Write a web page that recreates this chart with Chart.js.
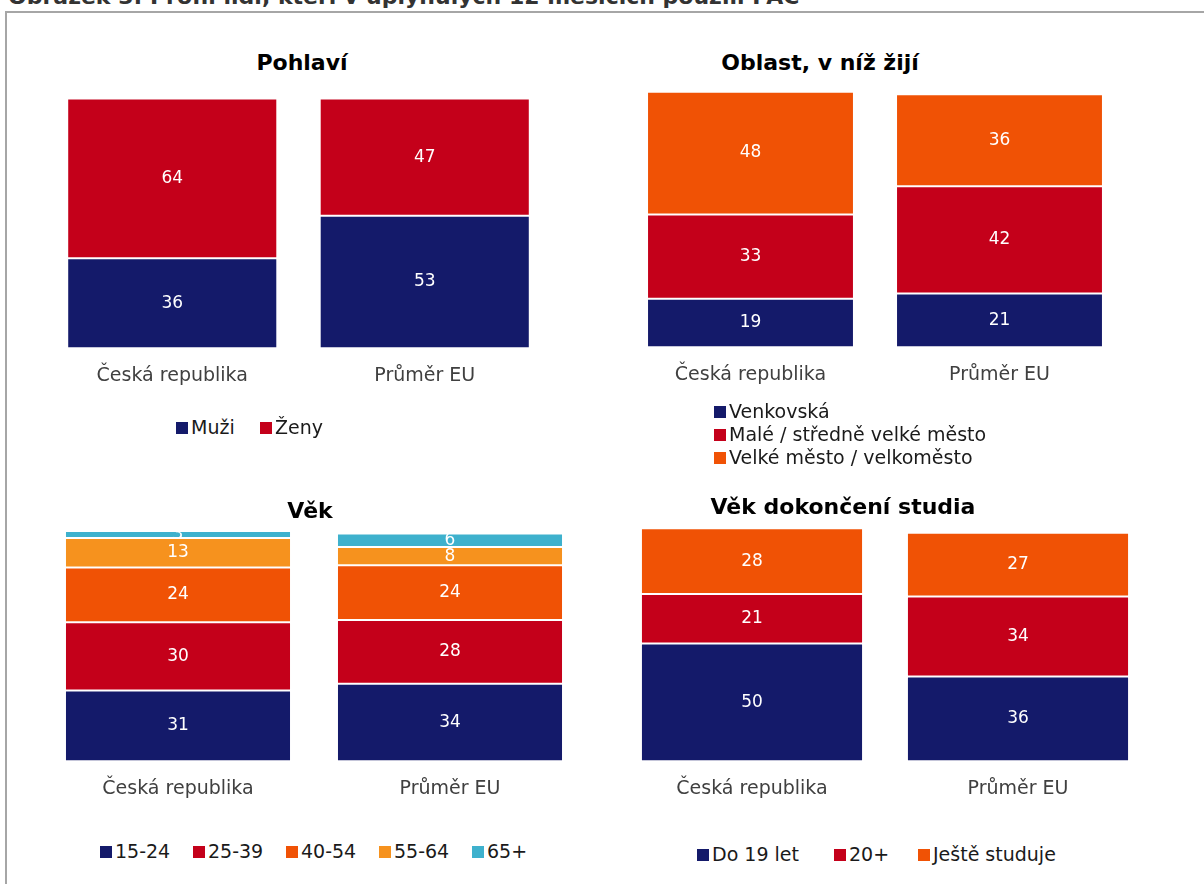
<!DOCTYPE html>
<html>
<head>
<meta charset="utf-8">
<script src="https://cdn.jsdelivr.net/npm/chart.js@4.4.0/dist/chart.umd.min.js"></script>
<style>
  body { margin: 0; background: #fff; width: 1204px; height: 884px; overflow: hidden; position: relative; font-family: "DejaVu Sans", Verdana, sans-serif; }
  #figTitle { position: absolute; left: 8px; top: -16px; font-size: 22px; line-height: 26px; font-weight: bold; color: #333; white-space: nowrap; }
  #frame { position: absolute; left: 5px; top: 11px; width: 1300px; height: 1000px; border-left: 2px solid #a6a6a6; border-top: 2px solid #a6a6a6; }
  canvas { position: absolute; }
  .title { position: absolute; font-size: 22px; font-weight: bold; color: #000; white-space: nowrap; transform: translate(-50%, -50%); }
  .leg { position: absolute; font-size: 19px; line-height: 22px; color: #1a1a1a; white-space: nowrap; }
  .leg span { display: inline-block; width: 12px; height: 12px; margin-right: 3px; vertical-align: 0px; }
</style>
</head>
<body>
<div id="figTitle">Obrázek 3: Profil lidí, kteří v uplynulých 12 měsících použili PAC</div>
<div id="frame"></div>

<canvas id="c1"></canvas>
<canvas id="c2"></canvas>
<canvas id="c3"></canvas>
<canvas id="c4"></canvas>
<div id="titles"></div>
<div id="legends"></div>

<script>
// data
const countries = ['Česká republika', 'Průměr EU'];

const genderLabels = ['Muži', 'Ženy'];
const genderMen = [36, 53];
const genderWomen = [64, 47];

const areaLabels = ['Venkovská', 'Malé / středně velké město', 'Velké město / velkoměsto'];
const areaRural = [19, 21];
const areaSmallTown = [33, 42];
const areaCity = [48, 36];

const ageLabels = ['15-24', '25-39', '40-54', '55-64', '65+'];
const age15to24 = [31, 34];
const age25to39 = [30, 28];
const age40to54 = [24, 24];
const age55to64 = [13, 8];
const age65plus = [3, 6];

const eduLabels = ['Do 19 let', '20+', 'Ještě studuje'];
const eduTo19 = [50, 36];
const edu20plus = [21, 34];
const eduStill = [28, 27];

// colours
const NAVY = '#141a6a', RED = '#c4001a', ORANGE = '#f05205', LIGHT = '#f6921e', CYAN = '#3eb1cd';

// layout of each panel (plot area in page pixels)
const Y_MAX = 105;
const TICK_FONT = 19, TICK_PAD = 16;
const panels = [
  { id: 'c1', title: 'Pohlaví', tx: 302, ty: 62, left: 46, right: 551, bottom: 348, ppu: 2.5, bar: 0.832,
    labels: genderLabels, series: [genderMen, genderWomen], colors: [NAVY, RED],
    legend: [[176, 427], [260, 427]] },
  { id: 'c2', title: 'Oblast, v níž žijí', tx: 820, ty: 62, left: 625.5, right: 1123.5, bottom: 347, ppu: 2.55, bar: 0.831,
    labels: areaLabels, series: [areaRural, areaSmallTown, areaCity], colors: [NAVY, RED, ORANGE],
    legend: [[714, 411], [714, 434], [714, 457]] },
  { id: 'c3', title: 'Věk', tx: 310, ty: 510, left: 42, right: 586, bottom: 761, ppu: 2.275, bar: 0.831,
    labels: ageLabels, series: [age15to24, age25to39, age40to54, age55to64, age65plus], colors: [NAVY, RED, ORANGE, LIGHT, CYAN],
    legend: [[100, 851], [193, 851], [286, 851], [379, 851], [472, 851]] },
  { id: 'c4', title: 'Věk dokončení studia', tx: 843, ty: 506, left: 619, right: 1151, bottom: 761, ppu: 2.35, bar: 0.835,
    labels: eduLabels, series: [eduTo19, edu20plus, eduStill], colors: [NAVY, RED, ORANGE],
    legend: [[697, 854], [834, 854], [918, 854]] }
];

// white value labels in the middle of each segment
const valueLabels = {
  id: 'valueLabels',
  afterDatasetsDraw(chart) {
    const ctx = chart.ctx;
    ctx.save();
    ctx.font = '17px "DejaVu Sans"';
    ctx.fillStyle = '#fff';
    ctx.textAlign = 'center';
    ctx.textBaseline = 'middle';
    chart.data.datasets.forEach((ds, i) => {
      chart.getDatasetMeta(i).data.forEach((bar, j) => {
        const p = bar.getProps(['x', 'y', 'base'], true);
        ctx.fillText(ds.data[j], p.x, (p.y + p.base) / 2);
      });
    });
    ctx.restore();
  }
};

const titles = document.getElementById('titles');
const legends = document.getElementById('legends');

panels.forEach(p => {
  const canvas = document.getElementById(p.id);
  const top = p.bottom - p.ppu * Y_MAX;
  const axisH = TICK_FONT * 1.2 + TICK_PAD * 2;
  const w = Math.round(p.right - p.left);
  const h = Math.round(p.bottom - top + axisH);
  canvas.width = w;
  canvas.height = h;
  canvas.style.left = p.left + 'px';
  canvas.style.top = (p.bottom + axisH - h) + 'px';

  const chart = new Chart(canvas.getContext('2d'), {
    type: 'bar',
    data: {
      labels: countries,
      datasets: p.series.map((s, i) => ({
        label: p.labels[i],
        data: s,
        backgroundColor: p.colors[i],
        borderColor: 'rgba(255,255,255,0.25)',
        borderWidth: 1,
        borderSkipped: false,
        categoryPercentage: 1,
        barPercentage: p.bar
      }))
    },
    options: {
      responsive: false,
      animation: false,
      layout: { padding: 0 },
      plugins: { legend: { display: false }, tooltip: { enabled: false } },
      scales: {
        x: {
          stacked: true,
          grid: { display: false, drawTicks: false },
          border: { display: false },
          ticks: { color: '#404040', padding: TICK_PAD, font: { family: 'DejaVu Sans', size: TICK_FONT } }
        },
        y: { stacked: true, display: false, min: 0, max: Y_MAX }
      }
    },
    plugins: [valueLabels]
  });

  const t = document.createElement('div');
  t.className = 'title';
  t.textContent = p.title;
  t.style.left = p.tx + 'px';
  t.style.top = p.ty + 'px';
  titles.appendChild(t);

  chart.data.datasets.forEach((ds, i) => {
    const item = document.createElement('div');
    item.className = 'leg';
    item.style.left = p.legend[i][0] + 'px';
    item.style.top = (p.legend[i][1] - 11) + 'px';
    item.innerHTML = '<span style="background:' + ds.backgroundColor + '"></span>' + ds.label;
    legends.appendChild(item);
  });
});
</script>
</body>
</html>
